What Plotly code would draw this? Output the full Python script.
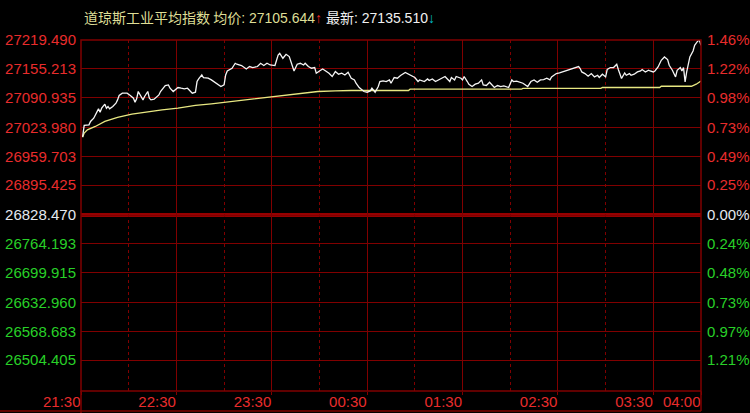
import plotly.graph_objects as go

# ---------------- data ----------------
prev_close = 26828.470

price_minutes = [1, 2, 5, 6, 8, 10, 11, 12, 13, 15, 16, 17, 18, 20, 22, 23, 24, 26, 29, 31,
                 33, 34, 35, 36, 38, 39, 40, 42, 43, 44, 46, 47, 49, 50, 52, 53, 55, 56, 58, 59,
                 61, 63, 65, 67, 69, 70, 72, 73, 74, 76, 77, 80, 82, 84, 86, 88, 90, 91, 92, 95,
                 97, 98, 101, 104, 106, 108, 111, 113, 115, 117, 119, 121, 122, 124, 125, 127, 129, 131, 133, 134,
                 136, 138, 140, 141, 143, 145, 147, 148, 150, 152, 153, 156, 158, 160, 162, 164, 166, 168, 170, 172,
                 173, 175, 178, 180, 182, 183, 185, 187, 188, 190, 192, 194, 195, 197, 199, 201, 204, 206, 208, 210,
                 212, 213, 216, 218, 219, 221, 223, 225, 227, 229, 230, 232, 233, 235, 236, 239, 240, 241, 243, 244,
                 246, 248, 250, 252, 253, 255, 257, 260, 262, 264, 266, 268, 269, 271, 272, 274, 276, 278, 281, 283,
                 285, 287, 289, 291, 293, 295, 296, 299, 301, 303, 305, 307, 309, 311, 313, 314, 315, 317, 319, 321,
                 323, 325, 326, 328, 330, 331, 333, 335, 337, 338, 340, 342, 343, 345, 346, 348, 350, 352, 353, 355,
                 357, 358, 360, 361, 363, 365, 367, 369, 370, 372, 374, 375, 377, 378, 379, 380, 381, 383, 385, 386,
                 388, 389, 390]

price_values = [27003.1, 27028.6, 27030.0, 27037.5, 27044.8, 27059.8, 27065.6, 27058.2, 27067.1, 27076.1,
                27067.1, 27070.9, 27065.6, 27070.9, 27078.3, 27085.7, 27095.5, 27100.6, 27100.6, 27095.5,
                27089.4, 27080.5, 27087.9, 27104.4, 27091.0, 27085.7, 27093.2, 27104.4, 27089.4, 27085.7,
                27087.2, 27091.0, 27096.8, 27104.4, 27111.8, 27117.8, 27119.1, 27111.8, 27104.4, 27108.0,
                27113.3, 27111.8, 27110.5, 27111.8, 27102.8, 27100.6, 27102.8, 27126.7, 27132.5, 27141.4,
                27135.6, 27134.1, 27130.3, 27125.1, 27119.1, 27115.5, 27119.1, 27141.4, 27150.3, 27156.4,
                27167.5, 27165.3, 27162.4, 27154.8, 27160.2, 27157.9, 27160.2, 27167.5, 27162.4, 27167.5,
                27163.7, 27162.4, 27162.4, 27186.0, 27189.8, 27178.7, 27187.6, 27182.5, 27163.7, 27150.3,
                27165.3, 27167.5, 27163.7, 27167.5, 27160.2, 27156.4, 27157.9, 27145.2, 27150.3, 27154.8,
                27152.6, 27145.2, 27137.9, 27149.0, 27143.0, 27145.2, 27141.4, 27147.4, 27134.1, 27130.3,
                27122.9, 27113.3, 27104.4, 27102.8, 27105.7, 27111.8, 27102.8, 27115.5, 27126.7, 27128.0,
                27126.7, 27130.3, 27122.9, 27135.6, 27134.1, 27140.1, 27146.8, 27143.0, 27137.9, 27135.6,
                27126.7, 27130.3, 27126.7, 27132.5, 27128.9, 27132.5, 27126.7, 27130.3, 27135.6, 27137.9,
                27134.1, 27126.7, 27135.6, 27130.3, 27137.9, 27134.1, 27130.3, 27137.9, 27126.7, 27120.7,
                27115.5, 27120.7, 27122.9, 27130.3, 27119.1, 27117.8, 27125.1, 27113.3, 27117.8, 27115.5,
                27116.9, 27115.5, 27113.3, 27130.3, 27126.7, 27127.5, 27125.1, 27122.9, 27115.5, 27126.7,
                27130.3, 27125.1, 27130.3, 27131.0, 27134.1, 27130.3, 27137.0, 27144.5, 27145.9, 27148.1,
                27150.3, 27153.5, 27155.7, 27157.9, 27160.0, 27155.7, 27148.1, 27144.5, 27138.5, 27144.5,
                27137.0, 27140.7, 27135.6, 27143.0, 27137.0, 27153.5, 27157.9, 27157.9, 27165.3, 27153.5,
                27133.4, 27145.9, 27140.7, 27144.5, 27140.7, 27143.0, 27148.1, 27150.3, 27153.5, 27148.1,
                27151.9, 27150.3, 27148.1, 27150.3, 27159.3, 27174.2, 27181.6, 27175.8, 27163.1, 27151.9,
                27137.0, 27151.9, 27157.9, 27150.3, 27157.9, 27125.8, 27148.1, 27181.6, 27194.9, 27207.7,
                27217.3, 27218.8, 27207.7]

avg_minutes = [1, 2, 4, 9, 15, 23, 32, 40, 51, 61, 72, 82, 95, 107, 118, 128, 139, 149, 160, 170,
               206, 207, 277, 278, 327, 328, 364, 365, 384, 387, 390]
avg_values = [27002.4, 27011.4, 27018.7, 27026.3, 27037.5, 27046.4, 27053.8, 27058.2, 27063.3, 27067.1,
              27073.2, 27076.7, 27082.1, 27087.2, 27091.0, 27096.8, 27100.6, 27104.4, 27105.7, 27106.6,
              27106.6, 27109.5, 27109.5, 27111.3, 27111.3, 27113.3, 27113.3, 27116.2, 27116.2, 27120.7,
              27128.0]

y_tick_values = [27219.490, 27155.213, 27090.935, 27023.980, 26959.703, 26895.425, 26828.470,
                 26764.193, 26699.915, 26632.960, 26568.683, 26504.405]
y_tick_labels = ["27219.490", "27155.213", "27090.935", "27023.980", "26959.703", "26895.425", "26828.470",
                 "26764.193", "26699.915", "26632.960", "26568.683", "26504.405"]
pct_tick_labels = ["1.46%", "1.22%", "0.98%", "0.73%", "0.49%", "0.25%", "0.00%",
                   "0.24%", "0.48%", "0.73%", "0.97%", "1.21%"]

time_offsets = [0, 60, 120, 180, 240, 300, 360, 390]
time_labels = ["21:30", "22:30", "23:30", "00:30", "01:30", "02:30", "03:30", "04:00"]
half_hour_offsets = [30, 90, 150, 210, 270, 330]

index_name = "道琼斯工业平均指数"
avg_label = "均价"
avg_price_text = "27105.644"
last_label = "最新"
last_price_text = "27135.510"

# ---------------- style ----------------
RED = "rgb(232,44,44)"
GREEN = "rgb(40,208,40)"
NEUTRAL = "rgb(228,232,240)"
GRID = "rgb(128,0,0)"
ZERO = "rgb(150,0,0)"
FONT = "Liberation Sans, Arial, Noto Sans CJK SC, sans-serif"
CJK_FONT = "Noto Sans CJK SC, Liberation Sans, sans-serif"

y_range = [26435.2, 27219.49]


def colored(label, value):
    if value > prev_close + 1e-6:
        c = RED
    elif value < prev_close - 1e-6:
        c = GREEN
    else:
        c = NEUTRAL
    return f'<span style="color:{c}">{label}</span>'


left_text = [colored(l, v) for l, v in zip(y_tick_labels, y_tick_values)]
right_text = [colored(l, v) for l, v in zip(pct_tick_labels, y_tick_values)]

fig = go.Figure()
fig.add_trace(go.Scatter(x=avg_minutes, y=avg_values, mode="lines",
                         line=dict(color="rgb(232,232,130)", width=1.3),
                         hoverinfo="skip"))
fig.add_trace(go.Scatter(x=price_minutes, y=price_values, mode="lines",
                         line=dict(color="rgb(245,245,245)", width=1.3),
                         hoverinfo="skip"))
# invisible helper trace so the right-hand axis is rendered
fig.add_trace(go.Scatter(x=avg_minutes, y=avg_values, mode="lines", yaxis="y2",
                         line=dict(width=0, color="rgba(0,0,0,0)"), hoverinfo="skip"))

fig.update_layout(
    width=750, height=413,
    margin=dict(l=81, r=49, t=40, b=22, pad=0, autoexpand=False),
    paper_bgcolor="black", plot_bgcolor="black",
    showlegend=False,
    font=dict(family=FONT, size=15, color=RED),
    xaxis=dict(
        range=[0, 390], tickmode="array", tickvals=time_offsets, ticktext=time_labels,
        showgrid=True, gridcolor=GRID, gridwidth=1, zeroline=False, showline=False,
        ticks="outside", ticklen=3, tickcolor=GRID, tickwidth=1,
        ticklabelposition="outside left", tickangle=0, automargin=False,
        ticklabelstandoff=-3,
        tickfont=dict(family=FONT, size=15, color=RED),
        minor=dict(tickmode="array", tickvals=half_hour_offsets, showgrid=True,
                   gridcolor=GRID, griddash="dot", gridwidth=1, ticks=""),
        fixedrange=True,
    ),
    yaxis=dict(
        range=y_range, tickmode="array", tickvals=y_tick_values, ticktext=left_text,
        showgrid=True, gridcolor=GRID, gridwidth=1, zeroline=False, showline=False,
        ticks="outside", ticklen=1, tickcolor="black", automargin=False,
        tickfont=dict(family=FONT, size=15),
        fixedrange=True,
    ),
    yaxis2=dict(
        range=y_range, overlaying="y", side="right", tickmode="array",
        tickvals=y_tick_values, ticktext=right_text, showgrid=False, zeroline=False,
        showline=False, ticks="outside", ticklen=2, tickcolor="black", automargin=False,
        tickfont=dict(family=FONT, size=15), fixedrange=True,
    ),
)

# zero (previous close) line
fig.add_shape(type="line", xref="paper", yref="y", x0=0, x1=1, y0=prev_close, y1=prev_close,
              line=dict(color=ZERO, width=4), layer="below")

# frame lines
bottom_band = -20 / 351
fig.add_shape(type="rect", xref="paper", yref="paper", x0=0, x1=1, y0=0, y1=1,
              line=dict(color=GRID, width=1.5))
fig.add_shape(type="line", xref="paper", yref="paper", x0=0, x1=0, y0=-22 / 351, y1=0,
              line=dict(color=GRID, width=1.5))
fig.add_shape(type="line", xref="paper", yref="paper", x0=1, x1=1, y0=bottom_band, y1=0,
              line=dict(color=GRID, width=1.5))
fig.add_shape(type="line", xref="paper", yref="paper", x0=-81 / 620, x1=1, y0=bottom_band, y1=bottom_band,
              line=dict(color=GRID, width=1.5))

header = (
    f'<span style="font-family:{CJK_FONT};color:rgb(222,222,150)">{index_name} {avg_label}</span>'
    f'<span style="color:rgb(222,222,150)">: {avg_price_text}</span>'
    f'<span style="color:rgb(240,40,40)">↑</span> '
    f'<span style="font-family:{CJK_FONT};color:rgb(240,240,240)">{last_label}</span>'
    f'<span style="color:rgb(240,240,240)">: {last_price_text}</span>'
    f'<span style="color:rgb(0,190,200)">↓</span>'
)
fig.add_annotation(xref="paper", yref="paper", x=1 / 620, y=1 + 23 / 351,
                   xanchor="left", yanchor="middle", showarrow=False, text=header,
                   font=dict(family=FONT, size=14))

fig.write_html(
    "out.html",
    config={"displayModeBar": False},
    post_script="document.body.style.margin='0';document.body.style.background='black';",
)
